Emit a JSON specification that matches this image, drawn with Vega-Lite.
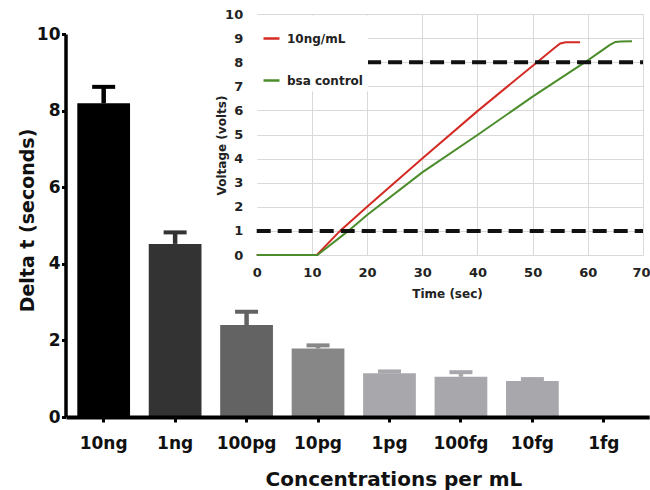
{
  "$schema": "https://vega.github.io/schema/vega-lite/v6.json",
  "width": 650,
  "height": 241,
  "autosize": {"type": "none"},
  "padding": {"top": 14, "left": 0, "right": 0, "bottom": 235},
  "background": "white",
  "config": {
    "view": {"stroke": null},
    "font": "DejaVu Sans",
    "axis": {"labelFont": "DejaVu Sans", "titleFont": "DejaVu Sans"},
    "legend": {"labelFont": "DejaVu Sans", "titleFont": "DejaVu Sans"}
  },
  "datasets": {
    "bars": [
      {"conc": "10ng", "delta": 8.19, "upper": 8.62},
      {"conc": "1ng", "delta": 4.52, "upper": 4.82},
      {"conc": "100pg", "delta": 2.4, "upper": 2.75},
      {"conc": "10pg", "delta": 1.79, "upper": 1.87},
      {"conc": "1pg", "delta": 1.14, "upper": 1.19},
      {"conc": "100fg", "delta": 1.05, "upper": 1.17},
      {"conc": "10fg", "delta": 0.94, "upper": 0.99},
      {"conc": "1fg", "delta": 0, "upper": 0}
    ],
    "curves": [
      {"series": "10ng/mL", "t": 0, "v": 0},
      {"series": "10ng/mL", "t": 10.9, "v": 0},
      {"series": "10ng/mL", "t": 15.1, "v": 1},
      {"series": "10ng/mL", "t": 20, "v": 2},
      {"series": "10ng/mL", "t": 30, "v": 4},
      {"series": "10ng/mL", "t": 40, "v": 5.97},
      {"series": "10ng/mL", "t": 50.8, "v": 8},
      {"series": "10ng/mL", "t": 54, "v": 8.6},
      {"series": "10ng/mL", "t": 55, "v": 8.78},
      {"series": "10ng/mL", "t": 56, "v": 8.83},
      {"series": "10ng/mL", "t": 58.6, "v": 8.83},
      {"series": "bsa control", "t": 0, "v": 0},
      {"series": "bsa control", "t": 11, "v": 0},
      {"series": "bsa control", "t": 16.6, "v": 1},
      {"series": "bsa control", "t": 20, "v": 1.66},
      {"series": "bsa control", "t": 30, "v": 3.43},
      {"series": "bsa control", "t": 40, "v": 4.98},
      {"series": "bsa control", "t": 50, "v": 6.57},
      {"series": "bsa control", "t": 59.5, "v": 8},
      {"series": "bsa control", "t": 62, "v": 8.4},
      {"series": "bsa control", "t": 64, "v": 8.72},
      {"series": "bsa control", "t": 65, "v": 8.84},
      {"series": "bsa control", "t": 66, "v": 8.86},
      {"series": "bsa control", "t": 68, "v": 8.87}
    ],
    "thresholds": [
      {"t": 0, "t1": 70, "v": 1},
      {"t": 20, "t1": 70, "v": 8}
    ]
  },
  "layer": [
    {
      "data": {"name": "bars"},
      "encoding": {
        "x": {
          "field": "conc", "type": "nominal", "title": "Concentrations per mL",
          "scale": {"domain": ["10ng", "1ng", "100pg", "10pg", "1pg", "100fg", "10fg", "1fg"], "range": [68, 647.2], "paddingInner": 0.262, "paddingOuter": 0.184, "align": 0.354},
          "axis": {
            "orient": "bottom", "offset": 162, "zindex": 1, "grid": false,
            "domainColor": "#000000", "domainWidth": 4, "domainCap": "square",
            "tickColor": "#000000", "tickWidth": 3, "tickSize": 5,
            "labelPadding": 13, "labelFontSize": 17, "labelFontWeight": "bold", "labelColor": "#111111", "labelAngle": 0,
            "titleFontSize": 20, "titleFontWeight": "bold", "titleColor": "#111111",
            "titleX": 265, "titleY": 68, "titleAlign": "left", "titleBaseline": "alphabetic"
          }
        },
        "color": {
          "field": "conc", "type": "nominal",
          "scale": {"domain": ["10ng", "1ng", "100pg", "10pg", "1pg", "100fg", "10fg", "1fg"], "range": ["#000000", "#333333", "#636363", "#878787", "#a8a8ac", "#a8a8ac", "#a8a8ac", "#a8a8ac"]},
          "legend": null
        }
      },
      "layer": [
        {
          "mark": {"type": "bar"},
          "encoding": {
            "y": {
              "field": "delta", "type": "quantitative", "title": "Delta t (seconds)",
              "scale": {"domain": [0, 10], "range": [403, 20], "nice": false, "zero": true},
              "axis": {
                "orient": "left", "offset": -65.5, "zindex": 1, "grid": false,
                "values": [0, 2, 4, 6, 8, 10],
                "domainColor": "#000000", "domainWidth": 3.5,
                "tickColor": "#000000", "tickWidth": 3, "tickSize": 4,
                "labelPadding": 1.5, "labelFontSize": 17, "labelFontWeight": "bold", "labelColor": "#111111",
                "titleFontSize": 19, "titleFontWeight": "bold", "titleColor": "#111111",
                "titleX": -28, "titleY": 206, "titleAngle": 270, "titleAlign": "center", "titleBaseline": "bottom"
              }
            }
          }
        },
        {
          "transform": [{"filter": "datum.upper > datum.delta"}],
          "mark": {"type": "rule", "strokeWidth": 4.5},
          "encoding": {
            "y": {"field": "delta", "type": "quantitative", "title": "Delta t (seconds)"},
            "y2": {"field": "upper"}
          }
        },
        {
          "transform": [{"filter": "datum.upper > datum.delta"}],
          "mark": {"type": "tick", "thickness": 4, "size": 23, "opacity": 1},
          "encoding": {
            "y": {"field": "upper", "type": "quantitative", "title": "Delta t (seconds)"}
          }
        }
      ]
    },
    {
      "encoding": {
        "x": {
          "field": "t", "type": "quantitative", "title": "Time (sec)",
          "scale": {"domain": [0, 70], "range": [256.7, 643], "nice": false},
          "axis": {
            "orient": "bottom", "offset": 0, "zindex": 0,
            "values": [0, 10, 20, 30, 40, 50, 60, 70],
            "domain": false, "ticks": false, "tickSize": 0,
            "grid": true, "gridColor": {"condition": {"test": "datum.value === 0", "value": "transparent"}, "value": "#d9d9d9"}, "gridWidth": 1,
            "labelPadding": 11, "labelFontSize": 13, "labelFontWeight": "bold", "labelColor": "#222222", "labelFlush": false,
            "labelAlign": {"condition": {"test": "datum.value === 70", "value": "right"}, "value": "center"},
            "labelOffset": {"condition": {"test": "datum.value === 70", "value": 7}, "value": 0},
            "titleFontSize": 12, "titleFontWeight": "bold", "titleColor": "#222222",
            "titleX": 447, "titleY": 42, "titleAlign": "center", "titleBaseline": "alphabetic"
          }
        },
        "y": {
          "field": "v", "type": "quantitative", "title": "Voltage (volts)",
          "scale": {"domain": [0, 10], "nice": false},
          "axis": {
            "orient": "left", "offset": -256.7, "zindex": 0,
            "values": [0, 1, 2, 3, 4, 5, 6, 7, 8, 9, 10],
            "labelOverlap": false,
            "domain": false, "ticks": false, "tickSize": 0,
            "grid": true, "gridColor": "#d9d9d9", "gridWidth": 1,
            "labelPadding": 14, "labelFontSize": 13, "labelFontWeight": "bold", "labelColor": "#222222", "labelFlush": false,
            "titleFontSize": 12, "titleFontWeight": "bold", "titleColor": "#222222",
            "titleX": -28, "titleY": 131, "titleAngle": 270, "titleAlign": "center", "titleBaseline": "bottom"
          }
        }
      },
      "layer": [
        {
          "data": {"name": "curves"},
          "mark": {"type": "line", "strokeWidth": 2},
          "encoding": {
            "color": {
              "field": "series", "type": "nominal",
              "scale": {"domain": ["10ng/mL", "bsa control"], "range": ["#d42a24", "#4b8c2b"]},
              "legend": {
                "orient": "none", "legendX": 257, "legendY": 1.5, "title": " ",
                "titleFontSize": 6, "titlePadding": 2.5,
                "fillColor": "white", "padding": 5,
                "symbolType": "stroke", "symbolSize": 256, "symbolStrokeWidth": 2.5,
                "labelFontSize": 12, "labelFontWeight": "bold", "labelColor": "#222222",
                "labelOffset": 6, "rowPadding": 26
              }
            }
          }
        },
        {
          "data": {"name": "thresholds"},
          "mark": {"type": "rule", "strokeWidth": 4, "strokeDash": [14, 7], "color": "#111111"},
          "encoding": {
            "x2": {"field": "t1"}
          }
        }
      ]
    }
  ],
  "resolve": {
    "scale": {"x": "independent", "y": "independent", "color": "independent"},
    "axis": {"x": "independent", "y": "independent"},
    "legend": {"color": "independent"}
  }
}
